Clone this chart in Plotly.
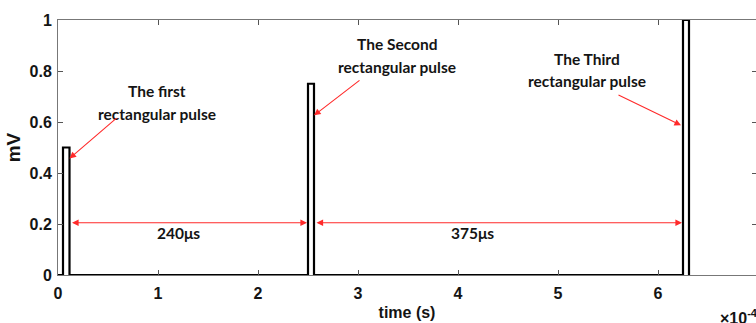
import plotly.graph_objects as go

# Pulse train (time in units of 1e-4 s, amplitude in mV)
pulse_start = [0.05, 2.50, 6.25]
pulse_width = [0.065, 0.06, 0.06]
pulse_amp = [0.5, 0.75, 1.0]
pulse_names = ["The first", "The Second", "The Third"]
gap_labels = ["240μs", "375μs"]
x_ticks = [0, 1, 2, 3, 4, 5, 6, 7]
y_ticks = [0, 0.2, 0.4, 0.6, 0.8, 1]
y_ticktext = ["0", "0.2", "0.4", "0.6", "0.8", "1"]

# Build the rectangular waveform from the pulse parameters
t, v = [], []
for s, w, a in zip(pulse_start, pulse_width, pulse_amp):
    t += [s, s, s + w, s + w]
    v += [0, a, a, 0]
wave_t = [0] + t
wave_v = [0] + v

fig = go.Figure()
fig.add_trace(go.Scatter(x=wave_t, y=wave_v, mode="lines",
                         line=dict(color="black", width=2.2),
                         showlegend=False, hoverinfo="skip"))
# helper trace for the right-hand tick marks
fig.add_trace(go.Scatter(x=[0], y=[0], yaxis="y2", mode="lines",
                         line=dict(width=0), showlegend=False, hoverinfo="skip"))

RED = "#ff2a2a"
TXT = "#141414"
ann_font = dict(family="Lato", size=15.5, color=TXT, weight="bold")

# Pulse call-outs: (label x, first-line y, second-line y, arrow tail, arrow head)
callouts = [
    (0.99, 0.72, 0.63, (0.60, 0.62), (pulse_start[0] + pulse_width[0], 0.457)),
    (3.39, 0.906, 0.815, (3.03, 0.768), (pulse_start[1] + pulse_width[1], 0.626)),
    (5.29, 0.846, 0.76, (5.59, 0.709), (pulse_start[2] - 0.02, 0.587)),
]
for name, (lx, y1, y2, tail, head) in zip(pulse_names, callouts):
    fig.add_annotation(x=lx, y=y1, text=name, showarrow=False, font=ann_font)
    fig.add_annotation(x=lx, y=y2, text="rectangular pulse", showarrow=False, font=ann_font)
    fig.add_annotation(x=head[0], y=head[1], ax=tail[0], ay=tail[1],
                       axref="x", ayref="y", text="", showarrow=True,
                       arrowhead=2, arrowsize=1.2, arrowwidth=1.1, arrowcolor=RED)

# Interval arrows between consecutive pulses
y_gap = 0.205
for i, lab in enumerate(gap_labels):
    x0 = pulse_start[i] + pulse_width[i] + 0.01
    x1 = pulse_start[i + 1] - 0.01
    fig.add_annotation(x=x1, y=y_gap, ax=x0, ay=y_gap, axref="x", ayref="y",
                       text="", showarrow=True, arrowside="end+start",
                       arrowhead=2, arrowsize=1.2, arrowwidth=1.1, arrowcolor=RED)
    lx = [1.2, 4.14][i]
    fig.add_annotation(x=lx, y=0.165, text=lab, showarrow=False, font=ann_font)

# Axis exponent marker
fig.add_annotation(xref="paper", yref="paper", x=0.945, y=-0.165,
                   xanchor="left", yanchor="middle", showarrow=False,
                   text="×10<sup>-4</sup>",
                   font=dict(family="Liberation Sans", size=16, color=TXT, weight="bold"))

tick_font = dict(family="Liberation Sans", size=16, color=TXT, weight="bold")
fig.update_layout(
    width=756, height=323,
    margin=dict(l=58, r=0, t=20, b=48),
    paper_bgcolor="white", plot_bgcolor="white",
    xaxis=dict(range=[0, 6.98], tickvals=x_ticks, ticks="inside", ticklen=5,
               tickcolor="#555", showline=True, linecolor="#777", linewidth=1,
               mirror="ticks", showgrid=False, zeroline=False, tickfont=tick_font,
               ticklabelstandoff=4,
               title=dict(text="time (s)", font=tick_font, standoff=5)),
    yaxis=dict(range=[0, 1], tickvals=y_ticks, ticktext=y_ticktext,
               ticks="inside", ticklen=5, tickcolor="#555", showline=True,
               linecolor="#777", linewidth=1, showgrid=False, zeroline=False,
               tickfont=tick_font, ticklabelstandoff=2,
               title=dict(text="mV", font=dict(family="Liberation Sans", size=19,
                                                color=TXT, weight="bold"), standoff=3)),
    yaxis2=dict(range=[0, 1], overlaying="y", side="right", tickvals=y_ticks,
                ticks="inside", ticklen=4, tickcolor="#555", showticklabels=False,
                showline=False, showgrid=False, zeroline=False),
)

fig.write_html("out.html")
